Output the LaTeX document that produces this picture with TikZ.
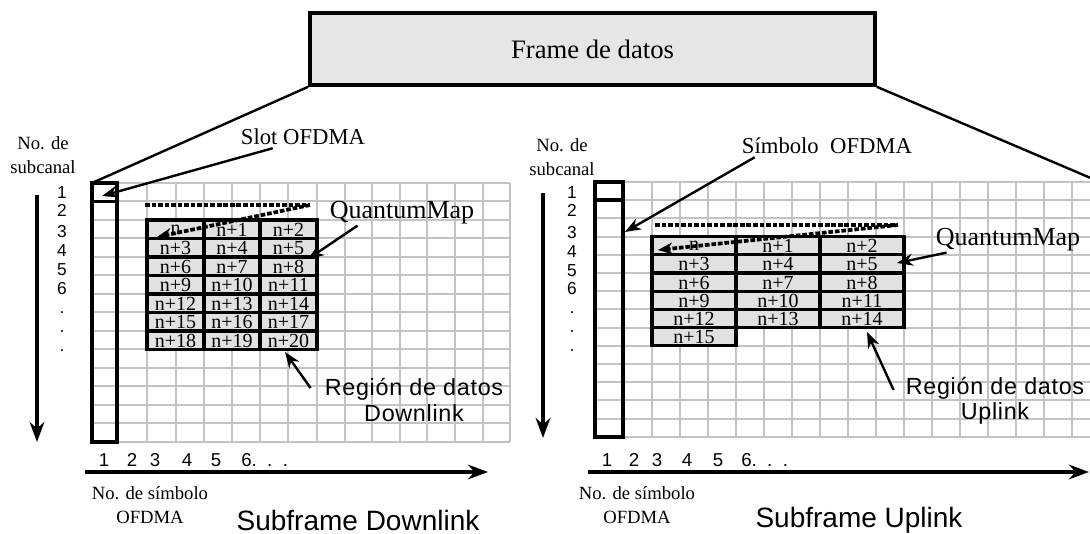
\documentclass[tikz,border=0pt]{standalone}
\usepackage{fontspec}
\setmainfont{Liberation Serif}
\setsansfont{Liberation Sans}
\newfontfamily\spsans[LetterSpace=3]{Liberation Sans}
\usetikzlibrary{arrows.meta,calc}
\definecolor{gridgray}{RGB}{195,195,195}
\definecolor{boxgray}{RGB}{230,230,230}
\definecolor{cellgray}{RGB}{225,225,225}
\begin{document}
\begin{tikzpicture}[x=0.75pt,y=-0.75pt,
  gridln/.style={draw=gridgray, line width=1.5pt},
  heavy/.style={draw=black, line width=2.7pt},
  cellbox/.style={draw=black, line width=2.5pt},
  celltxt/.style={font=\fontsize{15}{15}\selectfont, inner sep=0pt},
  rowlbl/.style={font=\sffamily\fontsize{13}{13}\selectfont, anchor=base, inner sep=0pt},
  collbl/.style={font=\sffamily\fontsize{14}{14}\selectfont, inner sep=0pt},
  dotline/.style={line width=2.8pt, dash pattern=on 3.5pt off 1.4pt},
  arr/.style={line width=1.8pt, -{Stealth[length=12pt,width=9pt]}},
  axis/.style={line width=2.4pt, -{Stealth[length=15pt,width=11pt]}},
  conn/.style={line width=1.8pt},
  lbl/.style={font=\fontsize{17}{17}\selectfont, inner sep=0pt},
  qmap/.style={font=\fontsize{19.5}{19.5}\selectfont, inner sep=0pt},
  axtitle/.style={font=\fontsize{14}{18}\selectfont, align=center, inner sep=0pt},
  subttl/.style={font=\sffamily\fontsize{21}{21}\selectfont, inner sep=0pt},
  region/.style={font=\spsans\fontsize{17.5}{19}\selectfont, align=center, inner sep=0pt},
  framebox/.style={draw=black, line width=2.7pt, fill=boxgray, minimum width=423.75pt, minimum height=54pt, inner sep=0pt, font=\fontsize{20}{20}\selectfont}
]
\path[use as bounding box, clip] (0,0) rectangle (1090,534);

% ---------- frame ----------
\node[framebox] (frame) at (592.5,49) {Frame de datos};

% ---------- left grid ----------
\foreach \x in {92,117,147,176,204,232,260,288,317,345,372,400,427,455,483,510}
  \draw[gridln] (\x,183) -- (\x,442);
\foreach \i in {0,...,14}
  \draw[gridln] (92,{183+\i*18.5}) -- (510,{183+\i*18.5});
\fill[cellgray] (147,220) rectangle (317,349.5);
\foreach \r in {0,...,6}
  \foreach \xa/\xb in {147/204,204/260,260/317}
    \draw[cellbox] (\xa,{220+\r*18.5}) rectangle (\xb,{220+(\r+1)*18.5});
\foreach \r in {0,...,6}
  \foreach \c/\xa/\xb in {0/147/204,1/204/260,2/260/317}{
    \pgfmathtruncatemacro\k{3*\r+\c}
    \node[celltxt] (L\k) at ({(\xa+\xb)/2},{220.5+(\r+0.5)*18.5}) {\ifnum\k=0 n\else n+\k\fi};
  }
\draw[heavy] (92,183) rectangle (117,442);
\draw[heavy] (92,183) rectangle (117,201.5);
\coordinate (LgridTL) at (92,183);
\draw[conn] (frame.south west) -- (LgridTL);

% row labels left
\node[axtitle] (subL) at (43,155) {No. de\\subcanal};
\foreach \t/\y in {1/199,2/217,3/238,4/257,5/276,6/295,./314,./333,./352}
  \node[rowlbl] at (62,\y) {\t};
\coordinate (vL1) at (37,195);
\coordinate (vL2) at (37,442);
\draw[axis] (vL1) -- (vL2);

% column labels left
\foreach \t/\x in {1/104,2/132,3/155,4/187,5/216}
  \node[collbl] at (\x,460) {\t};
\node[collbl, anchor=west] at (241,460) {6.\ \ .\ \ .};
\coordinate (hL1) at (85,472);
\coordinate (hL2) at (488,472);
\draw[axis] (hL1) -- (hL2);
\node[axtitle] (symL) at (150,505) {No. de símbolo\\OFDMA};
\node[subttl] (sfdl) at (358,520) {Subframe Downlink};

% dashed arrow left
\coordinate (dL1) at (145,205);
\coordinate (dL2) at (310,205);
\coordinate (dLtip) at (157,237);
\draw[dotline] (dL1) -- (dL2);
\draw[dotline, -{Stealth[length=11pt,width=9pt]}] (dL2) -- (dLtip);

% labels left
\node[lbl] (slotlbl) at (303,137) {Slot OFDMA};
\coordinate (slottip) at (102,196);
\draw[arr] ($(slotlbl.south west)+(32,3)$) -- (slottip);
\node[qmap] (qmL) at (402,213) {QuantumMap};
\coordinate (qmLtip) at (308,259);
\draw[arr] ($(qmL.south west)+(28,1)$) -- (qmLtip);
\node[region] (regL) at (414,400) {Región de datos\\Downlink};
\coordinate (regLtip) at (285,352);
\draw[arr] ($(regL.west)+(-14,-12)$) -- (regLtip);

% ---------- right grid ----------
\foreach \x in {595,623,652,680,708,736,764,792,820,848,876,904,932,960,988,1016,1044,1072,1100}
  \draw[gridln] (\x,182) -- (\x,437);
\foreach \i in {0,...,14}
  \draw[gridln] (595,{182+\i*18.2}) -- (1100,{182+\i*18.2});
\fill[cellgray] (652,236.6) rectangle (904,327.6);
\fill[cellgray] (652,327.6) rectangle (736,345.8);
\foreach \r in {0,...,4}
  \foreach \xa/\xb in {652/736,736/820,820/904}
    \draw[cellbox] (\xa,{236.6+\r*18.2}) rectangle (\xb,{236.6+(\r+1)*18.2});
\draw[cellbox] (652,327.6) rectangle (736,345.8);
\foreach \r in {0,...,4}
  \foreach \c/\xa/\xb in {0/652/736,1/736/820,2/820/904}{
    \pgfmathtruncatemacro\k{3*\r+\c}
    \node[celltxt] (R\k) at ({(\xa+\xb)/2},{237.1+(\r+0.5)*18.2}) {\ifnum\k=0 n\else n+\k\fi};
  }
\node[celltxt] (R15) at (694,337.2) {n+15};
\draw[heavy] (595,182) rectangle (623,437);
\draw[heavy] (595,182) rectangle (623,200.2);
\coordinate (RgridTR) at (1100,182);
\draw[conn] (frame.south east) -- (RgridTR);

% row labels right
\node[axtitle] (subR) at (562,157) {No. de\\subcanal};
\foreach \t/\y in {1/199,2/217,3/239,4/258,5/277,6/295,./314,./333,./352}
  \node[rowlbl] at (572,\y) {\t};
\coordinate (vR1) at (543,193);
\coordinate (vR2) at (543,438);
\draw[axis] (vR1) -- (vR2);

% column labels right
\foreach \t/\x in {1/607,2/634,3/657,4/687,5/718}
  \node[collbl] at (\x,460) {\t};
\node[collbl, anchor=west] at (741,460) {6.\ \ .\ \ .};
\coordinate (hR1) at (588,472);
\coordinate (hR2) at (1089,472);
\draw[axis] (hR1) -- (hR2);
\node[axtitle] (symR) at (637,505) {No. de símbolo\\OFDMA};
\node[subttl] (sful) at (859,520) {Subframe Uplink};

% dashed arrow right
\coordinate (dR1) at (655,225);
\coordinate (dR2) at (898,225);
\coordinate (dRtip) at (658,250);
\draw[dotline] (dR1) -- (dR2);
\draw[dotline, -{Stealth[length=11pt,width=9pt]}] (dR2) -- (dRtip);

% labels right
\node[lbl] (symlbl) at (827,146) {Símbolo\ \ OFDMA};
\coordinate (symtip) at (625,232);
\draw[arr] ($(symlbl.south west)+(13,3)$) -- (symtip);
\node[qmap] (qmR) at (1008,240) {QuantumMap};
\coordinate (qmRtip) at (897,263);
\draw[arr] ($(qmR.south west)+(11,1)$) -- (qmRtip);
\node[region] (regR) at (995,401) {Región de datos\\Uplink};
\coordinate (regRtip) at (867,332);
\draw[arr] ($(regR.west)+(-12,-11)$) -- (regRtip);
\end{tikzpicture}
\end{document}
